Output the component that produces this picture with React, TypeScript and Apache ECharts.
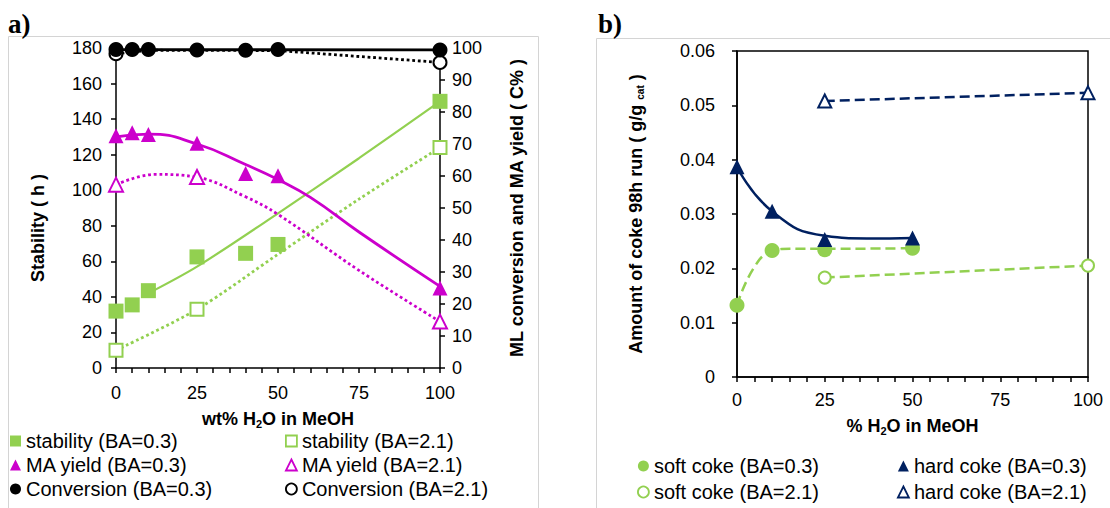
import React, { useEffect, useRef } from "react";
import * as echarts from "echarts";

const FONT = '"Liberation Sans", Arial, sans-serif';
const GREEN = "#92D050";
const MAGENTA = "#CC00CC";
const NAVY = "#002060";
const BLACK = "#000000";

// ---- Panel a) data ----
const stab03: [number, number][] = [[0, 32], [5, 35.5], [10, 43.5], [25, 62.5], [40, 64.5], [50, 69.5], [100, 150]];
const stab21: [number, number][] = [[0, 10], [25, 33], [100, 124]];
const ma03: [number, number][] = [[0, 72.6], [5, 73.5], [10, 73], [25, 70.2], [40, 60.8], [50, 60.1], [100, 25]];
const ma21: [number, number][] = [[0, 57.3], [25, 59.7], [100, 14.5]];
const conv03: [number, number][] = [[0, 99.5], [5, 99.5], [10, 99.5], [25, 99.4], [40, 99.3], [50, 99.5], [100, 99.4]];
const conv21: [number, number][] = [[0, 98.2], [100, 95.5]];
// trend lines
const stab03Trend: [number, number][] = [[10, 42], [25, 57], [50, 87], [75, 118], [100, 150]];
const stab21Trend: [number, number][] = [[0, 10], [25, 33], [50, 64], [75, 95], [100, 124]];
const ma03Trend: [number, number][] = [[0, 72.2], [10, 73.1], [25, 70], [40, 63.6], [50, 58.9], [60, 53.3], [75, 42.5], [100, 25.5]];
const ma21Trend: [number, number][] = [[0, 57.3], [12, 60.5], [25, 59.6], [40, 53.5], [50, 48], [75, 30.5], [100, 14.5]];
const conv03Trend: [number, number][] = [[0, 99.5], [100, 99.4]];
const conv21Trend: [number, number][] = [[0, 98.2], [10, 99.3], [50, 99.2], [100, 95.5]];

// ---- Panel b) data ----
const soft03: [number, number][] = [[0, 0.0132], [10, 0.0233], [25, 0.0234], [50, 0.0237]];
const soft21: [number, number][] = [[25, 0.0183], [100, 0.0205]];
const hard03: [number, number][] = [[0, 0.0387], [10, 0.0305], [25, 0.0253], [50, 0.0256]];
const hard21: [number, number][] = [[25, 0.0508], [100, 0.0523]];
const soft03Trend: [number, number][] = [[0, 0.0132], [5, 0.0203], [10, 0.0231], [15, 0.0236], [25, 0.0236], [50, 0.0237]];
const hard03Trend: [number, number][] = [[0, 0.0387], [10, 0.0305], [25, 0.026], [37, 0.0255], [50, 0.0256]];

const leftYTicks = { min: 0, max: 180, interval: 20 };
const rightYTicks = { min: 0, max: 100, interval: 10 };
const cokeTicks = { min: 0, max: 0.06, interval: 0.01 };

const axisLineStyle = { lineStyle: { color: BLACK, width: 1.5 } };
const labelStyle = { color: BLACK, fontSize: 18, fontFamily: FONT };
const tickStyle = { show: true, length: 5, lineStyle: { color: BLACK, width: 1.5 } };
const boldTitle = { fontSize: 18, fontWeight: "bold", fontFamily: FONT, color: BLACK };

function xAxis(gridIndex: number, name: string, margin: number, nameGap: number) {
  return {
    type: "value",
    gridIndex,
    min: 0,
    max: 100,
    interval: 5,
    axisLine: axisLineStyle,
    axisTick: tickStyle,
    splitLine: { show: false },
    axisLabel: {
      ...labelStyle,
      margin,
      formatter: (v: number) => (v % 25 === 0 ? String(v) : ""),
    },
    name,
    nameLocation: "middle",
    nameGap,
    nameTextStyle: {
      rich: {
        a: boldTitle,
        s: { ...boldTitle, fontSize: 11, padding: [10, 0, 0, 0] },
      },
    },
  };
}

function lineSeries(data: [number, number][], color: string, type: string, xi: number, yi: number, width = 2.5, smooth = 0.4) {
  return {
    type: "line",
    xAxisIndex: xi,
    yAxisIndex: yi,
    data,
    symbol: "none",
    smooth,
    silent: true,
    lineStyle: { color, width, type },
    z: 2,
  };
}

function scatter(name: string, data: [number, number][], symbol: string, size: number, color: string, filled: boolean, xi: number, yi: number) {
  return {
    type: "scatter",
    name,
    xAxisIndex: xi,
    yAxisIndex: yi,
    data,
    symbol,
    symbolSize: size,
    itemStyle: filled
      ? { color, opacity: 1 }
      : { color: "#ffffff", borderColor: color, borderWidth: 2, opacity: 1 },
    z: filled ? 4 : 3,
  };
}

function legendData(name: string, symbol: string, color: string, filled: boolean) {
  return {
    name,
    icon: symbol,
    itemStyle: filled
      ? { color, borderWidth: 0 }
      : { color: "#ffffff", borderColor: color, borderWidth: 1.8 },
  };
}

const legendText = { color: BLACK, fontSize: 20, fontFamily: FONT, lineHeight: 20 };

function legend(left: number, top: number, gap: number, data: any[]) {
  return {
    orient: "vertical",
    left,
    top,
    padding: 0,
    itemGap: gap,
    itemWidth: 11,
    itemHeight: 11,
    textStyle: legendText,
    selectedMode: false,
    data,
  };
}

export default function App() {
  const ref = useRef<HTMLDivElement>(null);
  useEffect(() => {
    if (!ref.current) return;
    const chart = echarts.init(ref.current, undefined, { renderer: "svg" });
    const option: any = {
      animation: false,
      backgroundColor: "#ffffff",
      grid: [
        { left: 116, top: 48, width: 324, height: 320, show: false },
        { left: 737, top: 51, width: 351, height: 326, show: true, borderColor: BLACK, borderWidth: 1.5, backgroundColor: "transparent" },
      ],
      xAxis: [
        xAxis(0, "{a|wt% H}{s|2}{a|O in MeOH}", 16, 40),
        xAxis(1, "{a|% H}{s|2}{a|O in MeOH}", 14, 38),
      ],
      yAxis: [
        {
          type: "value",
          gridIndex: 0,
          position: "left",
          ...leftYTicks,
          axisLine: { show: true, ...axisLineStyle },
          axisTick: tickStyle,
          splitLine: { show: false },
          axisLabel: { ...labelStyle, margin: 14 },
        },
        {
          type: "value",
          gridIndex: 0,
          position: "right",
          ...rightYTicks,
          axisLine: { show: true, ...axisLineStyle },
          axisTick: tickStyle,
          splitLine: { show: false },
          axisLabel: { ...labelStyle, margin: 12 },
          name: "ML conversion and MA yield ( C% )",
          nameLocation: "middle",
          nameGap: 68,
          nameRotate: 90,
          nameTextStyle: boldTitle,
        },
        {
          type: "value",
          gridIndex: 1,
          position: "left",
          ...cokeTicks,
          axisLine: { show: true, ...axisLineStyle },
          axisTick: tickStyle,
          splitLine: { show: false },
          axisLabel: { ...labelStyle, margin: 22, formatter: (v: number) => (v === 0 ? "0" : v.toFixed(2)) },
          name: "{a|Amount of coke 98h run ( g/g }{s|cat}{a| )}",
          nameLocation: "middle",
          nameGap: 92,
          nameTextStyle: {
            rich: {
              a: boldTitle,
              s: { ...boldTitle, fontSize: 10, padding: [9, 0, 0, 0] },
            },
          },
        },
      ],
      legend: [
        legend(10, 431, 4, [
          legendData("stability (BA=0.3)", "rect", GREEN, true),
          legendData("MA yield (BA=0.3)", "triangle", MAGENTA, true),
          legendData("Conversion (BA=0.3)", "circle", BLACK, true),
        ]),
        legend(285, 431, 4, [
          legendData("stability (BA=2.1)", "rect", GREEN, false),
          legendData("MA yield (BA=2.1)", "triangle", MAGENTA, false),
          legendData("Conversion (BA=2.1)", "circle", BLACK, false),
        ]),
        legend(637, 456, 6, [
          legendData("soft coke (BA=0.3)", "circle", GREEN, true),
          legendData("soft coke (BA=2.1)", "circle", GREEN, false),
        ]),
        legend(897, 456, 6, [
          legendData("hard coke (BA=0.3)", "triangle", NAVY, true),
          legendData("hard coke (BA=2.1)", "triangle", NAVY, false),
        ]),
      ],
      graphic: [
        { type: "rect", shape: { x: 8.5, y: 36.5, width: 530, height: 480 }, style: { fill: "none", stroke: "#d4d4d4", lineWidth: 1 }, silent: true },
        { type: "rect", shape: { x: 596.5, y: 38.5, width: 530, height: 480 }, style: { fill: "none", stroke: "#d4d4d4", lineWidth: 1 }, silent: true },
        { type: "text", left: 8, top: 10, style: { text: "a)", font: 'bold 27px "Liberation Serif", "Times New Roman", serif', fill: BLACK } },
        { type: "text", left: 598, top: 10, style: { text: "b)", font: 'bold 27px "Liberation Serif", "Times New Roman", serif', fill: BLACK } },
        {
          type: "text",
          x: 38,
          y: 228,
          rotation: Math.PI / 2,
          style: { text: "Stability ( h )", font: `bold 18px ${FONT}`, fill: BLACK, align: "center", verticalAlign: "middle" },
        },
      ],
      series: [
        // panel a) trend lines
        lineSeries(stab03Trend, GREEN, "solid", 0, 0, 2.2, 0.3),
        lineSeries(stab21Trend, GREEN, "dotted", 0, 0, 2.8, 0.3),
        lineSeries(ma03Trend, MAGENTA, "solid", 0, 1, 2.8, 0.5),
        lineSeries(ma21Trend, MAGENTA, "dotted", 0, 1, 2.8, 0.4),
        lineSeries(conv03Trend, BLACK, "solid", 0, 1, 2.8, 0),
        lineSeries(conv21Trend, BLACK, "dotted", 0, 1, 2.8, 0),
        // panel a) markers
        scatter("stability (BA=0.3)", stab03, "rect", 15, GREEN, true, 0, 0),
        scatter("stability (BA=2.1)", stab21, "rect", 13, GREEN, false, 0, 0),
        scatter("MA yield (BA=0.3)", ma03, "triangle", 15, MAGENTA, true, 0, 1),
        scatter("MA yield (BA=2.1)", ma21, "triangle", 14, MAGENTA, false, 0, 1),
        scatter("Conversion (BA=2.1)", conv21, "circle", 13, BLACK, false, 0, 1),
        scatter("Conversion (BA=0.3)", conv03, "circle", 15, BLACK, true, 0, 1),
        // panel b) trend lines
        lineSeries(soft03Trend, GREEN, "dashed", 1, 2, 2.5, 0.5),
        lineSeries(soft21, GREEN, "dashed", 1, 2, 2.5, 0),
        lineSeries(hard03Trend, NAVY, "solid", 1, 2, 2.5, 0.5),
        lineSeries(hard21, NAVY, "dashed", 1, 2, 2.5, 0),
        // panel b) markers
        scatter("soft coke (BA=0.3)", soft03, "circle", 15, GREEN, true, 1, 2),
        scatter("soft coke (BA=2.1)", soft21, "circle", 12, GREEN, false, 1, 2),
        scatter("hard coke (BA=0.3)", hard03, "triangle", 15, NAVY, true, 1, 2),
        scatter("hard coke (BA=2.1)", hard21, "triangle", 13, NAVY, false, 1, 2),
      ],
    };
    chart.setOption(option);
    return () => chart.dispose();
  }, []);
  return (
    <div
      ref={ref}
      style={{ position: "fixed", left: 0, top: 0, width: 1110, height: 508, background: "#fff" }}
    />
  );
}
